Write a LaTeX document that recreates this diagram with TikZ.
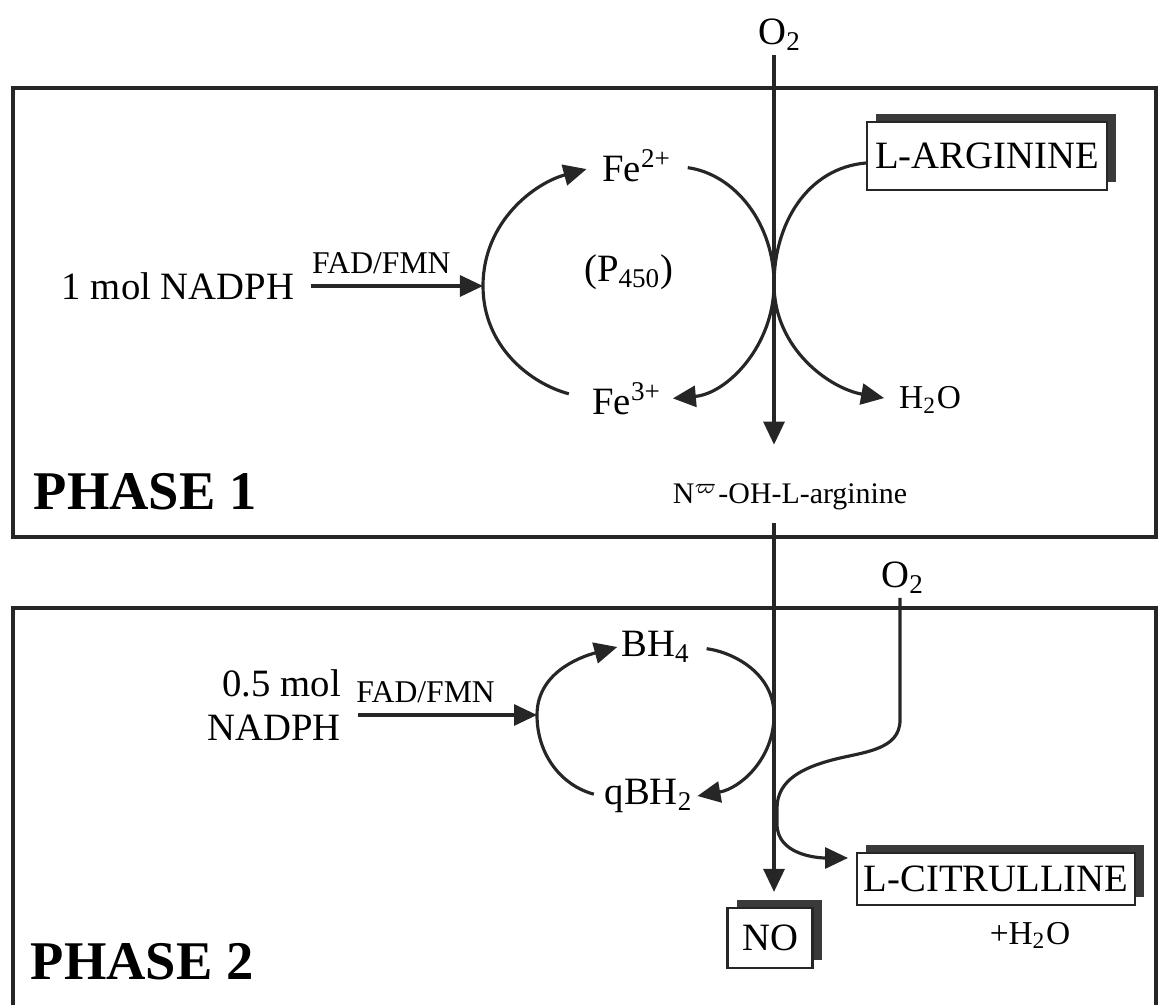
\documentclass[tikz,border=0pt]{standalone}
\usepackage{fontspec}
\setmainfont{Liberation Serif}
\usepackage{tikz}
\usetikzlibrary{arrows.meta,positioning,shadows}
\definecolor{cline}{HTML}{262626}
\definecolor{cshad}{HTML}{3A3A3A}
\tikzset{
  lbl/.style={font=\fontsize{11}{12.5}\selectfont, inner sep=1pt},
  sml/.style={font=\fontsize{9}{11}\selectfont, inner sep=1pt},
  cpd/.style={rectangle, draw=cline, line width=0.6pt, fill=white, inner sep=1pt,
    font=\fontsize{11}{13}\selectfont,
    general shadow={fill=cshad, shadow xshift=0.9mm, shadow yshift=0.8mm}},
  arr/.style={-{Triangle[length=2.3mm,width=2.1mm]}, line width=0.9pt, draw=cline},
  phasebox/.style={draw=cline, line width=1.4pt},
  ptitle/.style={font=\bfseries\fontsize{15.5}{18}\selectfont, anchor=west, inner sep=0pt},
}

\begin{document}
\begin{tikzpicture}[x=0.01cm, y=0.01cm]
  \useasboundingbox (0,0) rectangle (1165,1004);
  % the two phases
  \draw[phasebox] (13,467) rectangle (1156,916);
  \draw[phasebox] (13,-20) -- (13,396) -- (1156,396) -- (1156,-20);
  \node[ptitle] (ph1) at (33,512) {PHASE 1};
  \node[ptitle] (ph2) at (30,42) {PHASE 2};

  \coordinate (axis) at (774,0);

  % phase 1
  \node[lbl] (o2a) at (780,969) {O\textsubscript{2}};
  \node[lbl] (fe2) at (637,838) {Fe\textsuperscript{2+}};
  \node[lbl] (fe3) at (627,605) {Fe\textsuperscript{3+}};
  \node[lbl] (p450) at (629,732) {(P\textsubscript{450})};
  \node[cpd, minimum width=2.4cm, minimum height=0.68cm] (larg) at (987,848) {L-ARGININE};
  \node[lbl, font=\fontsize{9.5}{11}\selectfont] (hwat) at (930,604) {H\textsubscript{2}O};
  \node[lbl] (nadph1) at (178,718) {1 mol NADPH};
  \node[lbl, font=\fontsize{8.5}{10}\selectfont] (nohl) at (790,507) {N\textsuperscript{$\varpi$}-OH-L-arginine};

  \coordinate (lft1) at (483,718);
  \coordinate (mid1) at (774,720);

  \draw[arr, shorten <=1.3mm] (nadph1.east) -- (lft1) node[sml, pos=0.45, above=2pt] {FAD/FMN};
  \draw[arr, shorten <=2mm, shorten >=1.2mm] (fe3.west) to[out=165,in=-90] (lft1) to[out=90,in=195] (fe2.west);
  \draw[arr, shorten <=1.2mm, shorten >=0.7mm] (fe2.east) to[out=-8,in=90] (mid1) to[out=-90,in=5] (fe3.east);
  \draw[arr, shorten >=1.1mm] ([yshift=-0.7mm]larg.west) to[out=185,in=90] (mid1) to[out=-90,in=170] (hwat.west);
  \draw[arr, shorten >=3.5mm] (o2a.south -| axis) -- (nohl.north -| axis);

  % phase 2
  \node[lbl] (o2b) at (903,426) {O\textsubscript{2}};
  \node[lbl] (bh4) at (656,357) {BH\textsubscript{4}};
  \node[lbl] (qbh2) at (649,208) {qBH\textsubscript{2}};
  \node[lbl, align=right, anchor=east] (nadph2) at (345,299) {0.5 mol\\NADPH};
  \node[cpd, minimum width=0.85cm, minimum height=0.6cm] (no) at (770,66) {NO};
  \node[cpd, minimum width=2.78cm, minimum height=0.52cm] (lcit) at (996,125) {L-CITRULLINE};
  \node[lbl, font=\fontsize{9.5}{11}\selectfont, below=1.2mm of lcit, xshift=3.4mm] (pluswat) {+H\textsubscript{2}O};

  \coordinate (lft2) at (537,289);
  \coordinate (mid2) at (774,289);
  \coordinate (ox) at (900,0);
  \coordinate (bend) at (900,284);
  \coordinate (sw1) at (832,244);
  \coordinate (sw2) at (777,196);
  \coordinate (sw3) at (777,180);
  \coordinate (citin) at (848,146);

  \draw[arr, shorten <=1.3mm] (nadph2.east |- lft2) -- (lft2) node[sml, pos=0.42, above=2pt] {FAD/FMN};
  \draw[arr, shorten <=0.7mm] (qbh2.west) to[out=165,in=-90] (lft2) to[out=90,in=195] (bh4.west);
  \draw[arr, shorten <=1.2mm] (bh4.east) to[out=-8,in=90] (mid2) to[out=-90,in=10] (qbh2.east);
  \draw[arr, shorten <=0.9mm, shorten >=1.5mm] (nohl.south -| axis) -- (no.north -| axis);
  \draw[arr] (o2b.south -| ox) -- (bend) to[out=-90,in=15] (sw1) to[out=195,in=90] (sw2) -- (sw3) to[out=-90,in=180] (citin);
\end{tikzpicture}
\end{document}
